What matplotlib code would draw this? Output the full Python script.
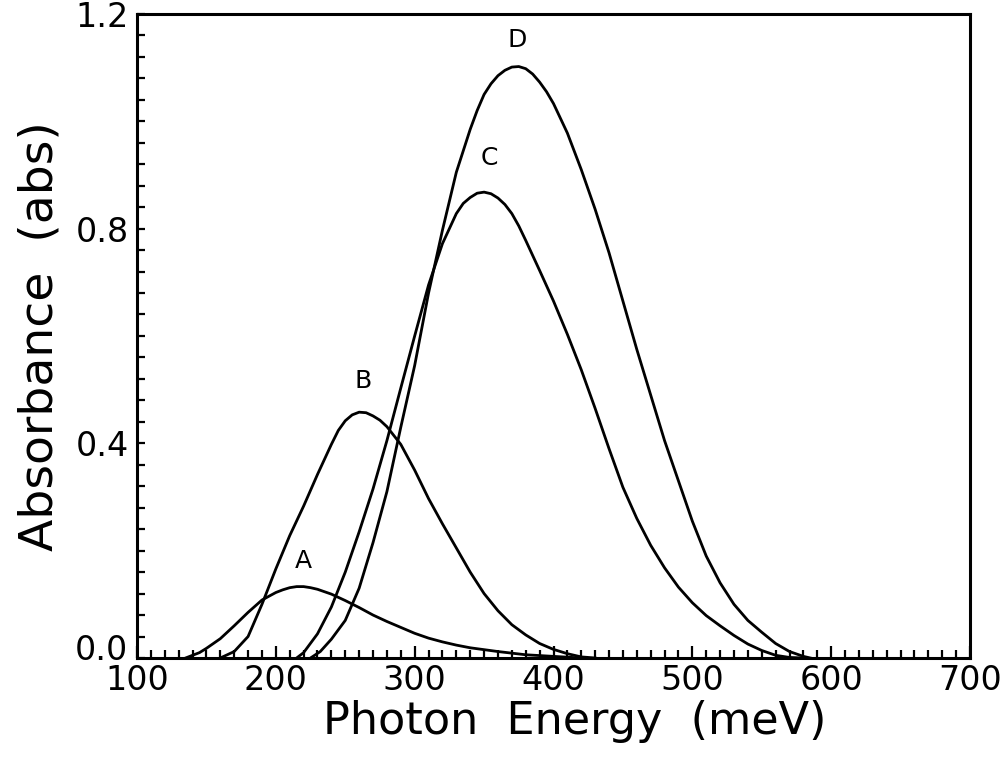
import matplotlib
matplotlib.use("Agg")
import matplotlib.pyplot as plt
from matplotlib.ticker import MultipleLocator, FuncFormatter

# curve A
energy_a = [135, 145, 150, 160, 170, 180, 190, 200, 205, 210, 215, 220, 225, 230, 240,
            250, 260, 270, 280, 290, 300, 310, 320, 330, 340, 360, 380, 400, 420]
absorb_a = [0.0, 0.01, 0.018, 0.036, 0.06, 0.085, 0.108, 0.122, 0.127, 0.131, 0.133,
            0.133, 0.131, 0.128, 0.119, 0.107, 0.094, 0.080, 0.068, 0.057, 0.046, 0.037,
            0.030, 0.024, 0.019, 0.012, 0.006, 0.003, 0.0]

# curve B
energy_b = [160, 170, 180, 190, 200, 210, 220, 230, 240, 245, 250, 255, 260, 265, 270,
            275, 280, 290, 300, 310, 320, 330, 340, 350, 360, 370, 380, 390, 400, 410,
            420, 430]
absorb_b = [0.0, 0.012, 0.04, 0.10, 0.166, 0.228, 0.283, 0.342, 0.398, 0.424, 0.442,
            0.453, 0.458, 0.457, 0.451, 0.443, 0.431, 0.398, 0.35, 0.297, 0.25, 0.205,
            0.16, 0.12, 0.088, 0.062, 0.043, 0.027, 0.016, 0.008, 0.002, 0.0]

# curve C
energy_c = [215, 220, 230, 240, 250, 260, 270, 280, 290, 300, 310, 320, 330, 335, 340,
            345, 350, 355, 360, 365, 370, 375, 380, 390, 400, 410, 420, 430, 440, 450,
            460, 470, 480, 490, 500, 510, 520, 530, 540, 550, 560, 570, 580]
absorb_c = [0.0, 0.01, 0.045, 0.095, 0.16, 0.235, 0.315, 0.405, 0.503, 0.60, 0.695,
            0.772, 0.828, 0.847, 0.858, 0.866, 0.868, 0.865, 0.857, 0.845, 0.828, 0.805,
            0.778, 0.722, 0.665, 0.603, 0.537, 0.465, 0.39, 0.318, 0.26, 0.21, 0.168,
            0.132, 0.103, 0.079, 0.06, 0.042, 0.026, 0.014, 0.005, 0.001, 0.0]

# curve D
energy_d = [225, 232, 240, 250, 260, 270, 280, 290, 300, 310, 320, 330, 340, 345, 350,
            355, 360, 365, 370, 375, 380, 385, 390, 395, 400, 410, 420, 430, 440, 450,
            460, 470, 480, 490, 500, 510, 520, 530, 540, 550, 560, 570, 580, 585]
absorb_d = [0.0, 0.012, 0.035, 0.07, 0.13, 0.215, 0.31, 0.43, 0.545, 0.68, 0.797, 0.905,
            0.985, 1.02, 1.05, 1.07, 1.085, 1.095, 1.101, 1.102, 1.098, 1.088, 1.073,
            1.055, 1.033, 0.978, 0.91, 0.836, 0.755, 0.665, 0.575, 0.49, 0.405, 0.33,
            0.255, 0.19, 0.14, 0.1, 0.07, 0.048, 0.027, 0.012, 0.003, 0.0]

curve_names = ["A", "B", "C", "D"]
name_x = [220, 263, 354, 373.5]
name_y = [0.18, 0.516, 0.931, 1.152]

fig = plt.figure(figsize=(10.06, 7.62), dpi=100)
ax = fig.add_axes([0.1362, 0.1365, 0.828, 0.8452])

for xs, ys in [(energy_a, absorb_a), (energy_b, absorb_b), (energy_c, absorb_c), (energy_d, absorb_d)]:
    ax.plot(xs, ys, color="black", lw=2.0, solid_joinstyle="round")

for name, tx, ty in zip(curve_names, name_x, name_y):
    ax.text(tx, ty, name, fontsize=18, ha="center", va="center")

ax.set_xlim(100, 700)
ax.set_ylim(0, 1.2)
ax.xaxis.set_major_locator(MultipleLocator(100))
ax.xaxis.set_minor_locator(MultipleLocator(10))
ax.yaxis.set_major_locator(MultipleLocator(0.4))
ax.yaxis.set_minor_locator(MultipleLocator(0.04))
# "0.0" is written separately, a bit higher, so it does not sit on "100"
ax.yaxis.set_major_formatter(FuncFormatter(lambda v, p: "" if abs(v) < 1e-9 else "%.1f" % v))
ax.text(-0.0105, 0.02, "0.0", fontsize=24, ha="right", va="center_baseline",
        transform=ax.get_yaxis_transform())

ax.tick_params(axis="x", which="major", direction="in", length=9, width=1.6, labelsize=24, pad=4)
ax.tick_params(axis="x", which="minor", direction="in", length=6, width=1.6)
ax.tick_params(axis="y", which="major", direction="in", length=6, width=1.6, labelsize=24, pad=6)
ax.tick_params(axis="y", which="minor", direction="in", length=6, width=1.6)
for s in ax.spines.values():
    s.set_linewidth(2.2)

ax.set_xlabel("Photon  Energy  (meV)", fontsize=32)
ax.xaxis.set_label_coords(0.526, -0.066)
ax.xaxis.label.set_va("top")
ax.set_ylabel("Absorbance  (abs)", fontsize=34)
ax.yaxis.set_label_coords(-0.09, 0.5)

fig.savefig("out.png", dpi=100)
